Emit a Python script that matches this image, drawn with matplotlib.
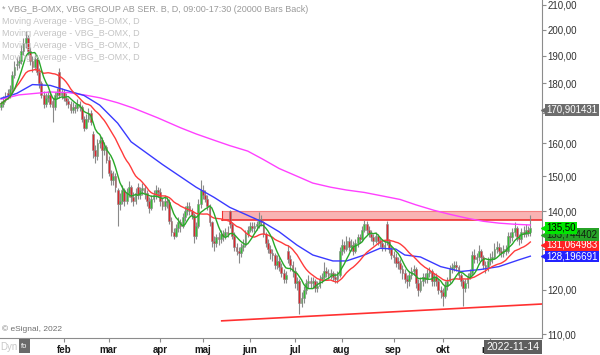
import matplotlib
matplotlib.use("Agg")
import matplotlib.pyplot as plt
from matplotlib.patches import Rectangle
import numpy as np
import pandas as pd

plt.rcParams['font.family'] = ['Liberation Sans', 'DejaVu Sans']

# daily bars VBG_B-OMX (bar 0 = first bar visible at the left edge)
opens = [172, 173, 174.5, 176.5, 176, 178, 183, 186.5, 187.5, 188,
         192, 195, 197, 192, 188, 186, 189, 184, 180, 176,
         173, 175, 176, 174, 172, 176, 184, 176, 177, 175,
         174, 173, 171, 172, 171.5, 173, 172, 168, 165, 168,
         170, 163, 158, 156, 160, 161, 158, 159, 155, 151,
         149, 150, 146, 142, 143, 146, 143, 145, 147, 144,
         143, 147, 144.5, 146, 146.5, 145, 143, 141, 143.5, 144.5,
         146, 145.5, 143, 141.5, 143, 142.5, 137.5, 134.5, 133.5, 135.5,
         137, 136, 138.5, 140, 141.5, 140, 139, 133.5, 136, 142,
         146, 144.5, 143.5, 141.5, 137, 132, 131.5, 133, 132.5, 134,
         133.5, 134.5, 140, 136.5, 133.5, 130.5, 129.5, 129, 130.5, 131,
         134, 135, 136, 135.5, 136, 136.5, 138, 137, 134, 131.5,
         130, 129, 128.5, 126, 127, 125.5, 124, 122.5, 129.5, 127.5,
         126, 124.5, 121.5, 122, 117, 118, 120, 121.5, 122, 121.5,
         122, 120.5, 121, 122.5, 123, 124.5, 124, 123.5, 124, 123,
         122.5, 123.5, 129.5, 131, 130, 132, 130.5, 131, 129.5, 131.5,
         133, 132.5, 135, 136.5, 135, 134, 133, 132, 133.5, 132,
         131.5, 130.5, 136.5, 132, 130, 128.5, 128, 127, 126.5, 125,
         124, 122.5, 122, 123.5, 124.5, 125, 121.5, 120, 122, 123,
         122.5, 124, 124.5, 122, 123, 122, 120, 119.5, 118.5, 121,
         122, 125, 125.5, 126, 125.5, 123.5, 122, 120.5, 121.5, 123,
         124, 128.5, 127.5, 128, 129.5, 128, 126, 125.5, 127, 127.5,
         128, 130, 130.5, 129.5, 129, 130, 129.5, 133.5, 133, 134.5,
         135.5, 133, 132.5, 134.5, 134, 135, 134.5]

highs = [174, 175.5, 177, 178, 179.5, 184.5, 188, 189.5, 190, 194,
         197, 199.5, 198, 193.5, 190, 191, 190, 185.5, 181, 177.5,
         176.5, 177.5, 177, 175, 177, 178.5, 185.5, 178.5, 178, 176.5,
         175, 174, 173.5, 173, 174.5, 174, 172.5, 169, 169.5, 171.5,
         171, 164, 159.5, 161.5, 162.5, 162, 160.5, 159.5, 156, 152,
         151.5, 151, 146.5, 145, 147.5, 146.5, 146.5, 148.5, 147.5, 145.5,
         146.5, 148, 147, 148, 147.5, 146, 144, 144.5, 146, 147.5,
         147, 146.5, 144, 144.5, 144, 143.5, 138.5, 135.5, 136.5, 138.5,
         138, 139.5, 141.5, 142.5, 142.5, 141, 139.5, 137, 143.5, 149,
         147.5, 146, 144.5, 142, 137.5, 133.5, 134, 134.5, 135, 135,
         135.5, 136, 140.3, 137, 134.5, 131.5, 130.5, 131.5, 132.5, 135,
         136, 137, 137, 137, 137.5, 139.8, 139, 137.5, 134.5, 132.5,
         131, 130, 129, 128.5, 128, 126.5, 125, 124.5, 131, 128.5,
         127, 125.5, 123, 122.5, 119.5, 121, 122.5, 123.5, 123, 123,
         122.5, 122, 123.5, 124, 126.8, 125.5, 125, 125, 124.5, 124,
         124.5, 130.5, 132.5, 132, 133.5, 133, 132.5, 132, 132.5, 134,
         134, 136, 137.6, 137.5, 136, 135, 134, 134.5, 134, 133,
         132.5, 132, 137.5, 132.5, 131, 129.5, 129, 128, 127.5, 126,
         125, 123.5, 124.5, 125.5, 126, 125.5, 122.5, 123, 124, 124,
         125, 125.5, 125, 124, 124, 122.5, 121, 120.5, 122, 123,
         126, 126.5, 127, 127, 126, 124, 122.5, 122.5, 124, 125,
         129.5, 130, 129, 131, 130, 128.5, 127, 128, 129, 129.5,
         131.5, 132, 131.5, 130.5, 131, 131, 134.5, 134.5, 135.5, 137,
         136, 134, 135.5, 136, 136.5, 136, 138.9]

lows = [171, 172, 173.5, 174.5, 175, 177, 182, 185, 185.5, 187,
        190.5, 193, 190.5, 186.5, 184, 185, 183, 178.5, 175, 171.5,
        172, 173.5, 172, 167, 171, 175, 175, 174.5, 174, 172.5,
        171.5, 170, 170, 170, 170.5, 170.5, 167, 164, 164.5, 167,
        166, 155.5, 154, 155, 158.5, 149.5, 156.5, 154, 150, 147.5,
        147.5, 145.5, 136, 140.5, 142, 141.5, 142, 144, 142.5, 141.5,
        142, 143.5, 143.5, 144.5, 143.5, 141.5, 139.5, 140.5, 142.5, 143.5,
        144, 141.5, 140.5, 140.5, 141, 136.5, 133.5, 132.5, 133, 134.5,
        134.5, 135.5, 137.5, 139, 139, 138, 131.5, 132.5, 135.5, 141,
        143.5, 142.5, 140.5, 136, 130.5, 129.5, 130.5, 131, 131.5, 132,
        132.5, 133, 135.5, 132.5, 129.5, 128.5, 126.5, 128, 129.5, 130.5,
        133, 134.5, 134.5, 134.5, 135, 135.5, 136, 133, 130.5, 129,
        127.5, 127, 125, 125, 124.5, 123, 121.5, 121.5, 126.5, 124.5,
        123, 120.5, 120, 114.4, 116, 117, 119, 120.5, 120.5, 120.5,
        119.5, 119.5, 120.5, 121.5, 122.5, 123, 122.5, 122.5, 122, 121.5,
        121.5, 123, 128.5, 129, 129.5, 129.5, 129.5, 128.5, 129, 130.5,
        131.5, 132, 134.5, 134, 133, 132, 131, 131.5, 131, 130.5,
        129.5, 129.5, 131, 129, 127.5, 126.5, 125.5, 125, 124, 122.5,
        121.5, 120.5, 121, 122.5, 123.5, 120.5, 118.5, 119.5, 121, 121.5,
        121.5, 123, 121, 121, 121, 119, 118, 116.2, 118, 120,
        121.5, 124, 124.5, 124.5, 122.5, 121, 116.2, 119.5, 120.5, 122.5,
        123.5, 126.5, 126.5, 127, 127, 125, 124, 124.5, 126, 126.5,
        127.5, 129, 128.5, 128, 128, 128.5, 129, 131.5, 132, 133.5,
        132, 131, 131.5, 133, 133, 133.5, 133.5]

closes = [173, 174, 175.5, 176, 178, 183, 186, 187, 188, 192,
          195, 197, 192, 188, 186, 189, 184, 180, 176, 173,
          175, 176, 173, 172, 176, 177, 176, 177, 175, 174,
          173, 171, 172, 171.5, 173, 172, 168, 165, 168, 170,
          167, 158, 156, 160, 161, 158, 159, 155, 151, 149,
          150, 147, 142, 143, 146, 143, 145, 147, 144, 143,
          145, 144.5, 146, 146.5, 145, 143, 141, 143.5, 144.5, 146,
          145.5, 143, 141.5, 143, 142.5, 137.5, 134.5, 133.5, 135.5, 137,
          136, 138.5, 140, 141.5, 140, 139, 133.5, 136, 142, 146,
          144.5, 143.5, 141.5, 137, 132, 131.5, 133, 132.5, 134, 133.5,
          134.5, 134, 136.5, 133.5, 130.5, 129.5, 129, 130.5, 131, 134,
          135, 136, 135.5, 136, 136.5, 138, 137, 134, 131.5, 130,
          129, 128.5, 126, 127, 125.5, 124, 122.5, 123.5, 127.5, 126,
          124.5, 121.5, 122, 117, 118, 120, 121.5, 122, 121.5, 122,
          120.5, 121, 122.5, 123, 124.5, 124, 123.5, 124, 123, 122.5,
          123.5, 129.5, 131, 130, 132, 130.5, 131, 129.5, 131.5, 133,
          132.5, 135, 136.5, 135, 134, 133, 132, 133.5, 132, 131.5,
          130.5, 131, 132, 130, 128.5, 128, 126.5, 126.5, 125, 124,
          122.5, 122, 123.5, 124.5, 125, 121.5, 120, 122, 123, 122.5,
          124, 124.5, 122, 123, 122, 120, 119.5, 118.5, 121, 122,
          125, 125.5, 126, 125.5, 123.5, 122, 120.5, 121.5, 123, 124,
          128.5, 127.5, 128, 129.5, 128, 126, 125.5, 127, 127.5, 128,
          130, 130.5, 129.5, 129, 130, 129.5, 133.5, 133, 134.5, 135.5,
          133, 132.5, 134.5, 134, 135, 134.5, 135.5]

# slow averages at some bars
blue_x = [0, 7, 14, 22, 29, 37, 44, 52, 58, 72, 87, 95, 102, 110, 117, 124,
          132, 139, 148, 154, 162, 169, 176, 180, 187, 196, 205, 214, 222, 231, 236]
blue_y = [174.8, 176.5, 179.6, 179.3, 177.6, 175.8, 172.5, 166.5, 160.5, 153.5,
          146.8, 143.9, 141.1, 138.9, 137, 134.5, 131, 128.5, 127, 127, 128.5,
          130.2, 130, 128.5, 128, 125.6, 124.4, 124.9, 125.6, 127.3, 128.2]
mag_x = [0, 8, 15, 22, 30, 37, 44, 52, 59, 70, 80, 87, 95, 102, 110, 117, 124,
         132, 139, 147, 154, 162, 170, 178, 185, 193, 200, 208, 215, 222, 229, 236]
mag_y = [174.5, 176, 176.5, 177, 176.8, 176, 175, 173.3, 171.5, 168.2, 165, 163,
         161, 159.3, 157.6, 155, 152.3, 150, 148, 146.8, 146, 145.3, 144.3, 143.3,
         141.8, 140.3, 139.2, 138.1, 137.3, 136.8, 136.5, 136.3]

# drawn zone and support line
zone_start = 98.4
zone_low, zone_high = 137.6, 140.1
support_x = [98.4, 241.2]
support_y = [112.9, 116.7]

month_pos = [28, 48, 71, 90, 111, 131, 152, 175, 197, 218]
month_names = ["feb", "mar", "apr", "maj", "jun", "jul", "aug", "sep", "okt", "nov"]
price_ticks = [110, 120, 130, 140, 150, 160, 170, 180, 190, 200, 210]
# 130 and 170 sit under the price boxes in the reference
hidden_ticks = [130, 170]

# price boxes on the right axis (value, text, face, text colour)
flags = [(170.901431, "170,901431", "#6d6d6d", "white"),
         (128.196691, "128,196691", "#2323ff", "white"),
         (131.064983, "131,064983", "#ff2323", "white"),
         (133.744402, "133,744402", "#27a327", "#102010"),
         (135.50, "135,50", "#00e600", "black")]

o = np.array(opens)
h = np.array(highs)
l = np.array(lows)
c = np.array(closes)
x = np.arange(len(c))

green_ma = pd.Series(c).rolling(7, min_periods=1).mean()
red_ma = pd.Series(c).rolling(20, min_periods=1).mean()

fig = plt.figure(figsize=(6, 3.55), dpi=100)
ax = fig.add_axes([0, 17 / 355, 542 / 600, 338 / 355])
ax.set_yscale('log')

ax.add_patch(Rectangle((zone_start, zone_low), 250, zone_high - zone_low,
                       facecolor='#f9b3b3', edgecolor='none', zorder=1))
ax.axhline(zone_low, xmin=(zone_start + 0.45) / 241.65, color='#f03030', lw=1.2, zorder=1.5)
ax.axhline(zone_high, xmin=(zone_start + 0.45) / 241.65, color='#f58080', lw=0.8, zorder=1.5)
ax.plot([zone_start, zone_start], [zone_low, zone_high], color='#f03030', lw=0.8, zorder=1.5)

ax.vlines(x, l, h, color='#8a8a8a', lw=0.8, zorder=2)
up = c >= o
lo = np.minimum(o, c)
hi = np.maximum(o, c)
ax.bar(x, hi - lo, bottom=lo, width=0.8,
       color=np.where(up, '#33c033', '#d9262c'), edgecolor='#8a8a8a',
       linewidth=0.4, zorder=3)

ax.plot(mag_x, mag_y, color='#ff40ff', lw=1.0, zorder=4)
ax.plot(blue_x, blue_y, color='#3a3aff', lw=1.0, zorder=4)
ax.plot(x, red_ma, color='#ff3b3b', lw=1.0, zorder=4)
ax.plot(x, green_ma, color='#28a828', lw=1.0, zorder=4)
ax.plot(support_x, support_y, color='#ff3030', lw=1.2, zorder=4)

ax.set_xlim(-0.45, 241.2)
ax.set_ylim(109.16, 212.07)

for side in ['top', 'left']:
    ax.spines[side].set_visible(False)
ax.spines['right'].set_color('#8c8c8c')
ax.spines['bottom'].set_color('#8c8c8c')

ax.yaxis.tick_right()
ax.set_yticks(price_ticks)
ax.set_yticklabels(["" if t in hidden_ticks else f"{t},00" for t in price_ticks])
ax.yaxis.set_minor_locator(matplotlib.ticker.NullLocator())
ax.tick_params(axis='y', which='major', length=3, width=0.8, color='#8c8c8c',
               labelsize=7, labelcolor='#333333', pad=1)

ax.set_xticks(month_pos)
ax.set_xticklabels(month_names, fontweight='bold')
ax.tick_params(axis='x', length=3, width=0.8, color='#8c8c8c',
               labelsize=7, labelcolor='#1a1a1a', pad=2)

for val, txt, fc, tc in flags:
    ax.plot([1.004], [val], marker='<', ms=4, color=fc, transform=ax.get_yaxis_transform(),
            clip_on=False, zorder=10)
    ax.text(1.008, val, txt, transform=ax.get_yaxis_transform(), ha='left', va='center',
            fontsize=7, color=tc, clip_on=False, zorder=11,
            bbox=dict(boxstyle='square,pad=0.12', fc=fc, ec='none'))

fig.text(2 / 600, 1 - 9 / 355, "* VBG_B-OMX, VBG GROUP AB SER. B, D, 09:00-17:30 (20000 Bars Back)",
         fontsize=6.5, color='#9a9a9a', va='center')
for i in range(4):
    fig.text(2 / 600, 1 - (21 + 12 * i) / 355, "Moving Average - VBG_B-OMX, D",
             fontsize=6.5, color='#c4c4c4', va='center')
fig.text(2 / 600, 1 - 329 / 355, "\u00a9 eSignal, 2022", fontsize=6, color='#707070', va='center')
fig.text(0, 1 - 347 / 355, "Dyn", fontsize=7, color='#c8c8c8', va='center')
fig.patches.append(Rectangle((19 / 600, 2 / 355), 11 / 600, 14 / 355, transform=fig.transFigure,
                             facecolor='#6a6a6a', edgecolor='none'))
fig.text(24.5 / 600, 1 - 346 / 355, "fo", fontsize=5.5, color='white', ha='center', va='center')
fig.text(513 / 600, 1 - 347 / 355, "2022-11-14", fontsize=7.5, color='white', ha='center', va='center',
         bbox=dict(boxstyle='square,pad=0.2', fc='#5e5e5e', ec='none'))

fig.savefig('out.png', dpi=100)
